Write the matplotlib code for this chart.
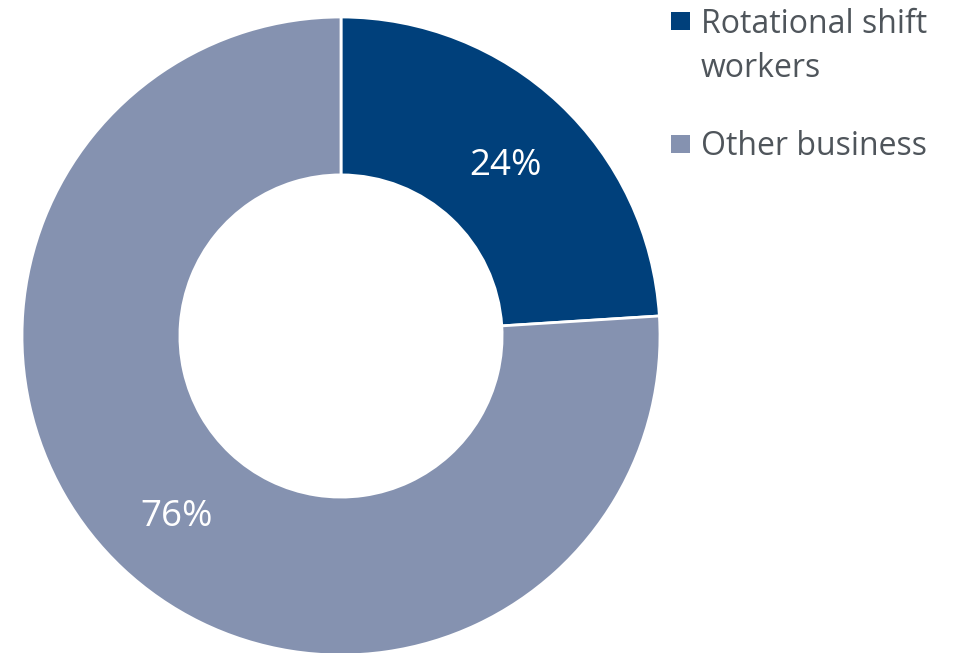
import matplotlib as mpl
mpl.use('Agg')
import matplotlib.pyplot as plt
from matplotlib.patches import Rectangle

plt.rcParams['font.family'] = ['Open Sans', 'DejaVu Sans']

labels = ['Rotational shift\nworkers', 'Other business']
shares = [24, 76]
colors = ['#00407B', '#8592B0']
text_color = '#4F555B'

fig = plt.figure(figsize=(9.56, 6.53), dpi=100)
W, H = 956, 653

# pie axes: centre ~ (341, 336) px, radius ~ 319 px
r = 319
cx, cy = 341, 336
ax = fig.add_axes([(cx - r) / W, (H - cy - r) / H, 2 * r / W, 2 * r / H])
wedges, texts, autotexts = ax.pie(shares, colors=colors, startangle=90, counterclock=False,
                                  radius=1, autopct='%d%%', pctdistance=0.755,
                                  wedgeprops=dict(width=0.495, edgecolor='white', linewidth=2))
for t in autotexts:
    t.set_color('white')
    t.set_fontsize(26.5)
    x, y = t.get_position()
    t.set_position((x, y - 0.018))  # font bbox sits a bit high
ax.set_xlim(-1, 1)
ax.set_ylim(-1, 1)
ax.set_aspect('equal')
ax.axis('off')

# legend, drawn by hand so the square sits on the first line
marker_y = [21, 144]
base_y = [33, 155]
line_gap = 44
for lab, col, my, by in zip(labels, colors, marker_y, base_y):
    fig.patches.append(Rectangle((671 / W, (H - my - 9) / H), 19 / W, 18 / H,
                                 transform=fig.transFigure, facecolor=col, edgecolor='none'))
    for i, line in enumerate(lab.split('\n')):
        fig.text(701 / W, (H - by - i * line_gap) / H, line, color=text_color, fontsize=23,
                 va='baseline', ha='left', transform=fig.transFigure)

plt.savefig('out.png', dpi=100)
